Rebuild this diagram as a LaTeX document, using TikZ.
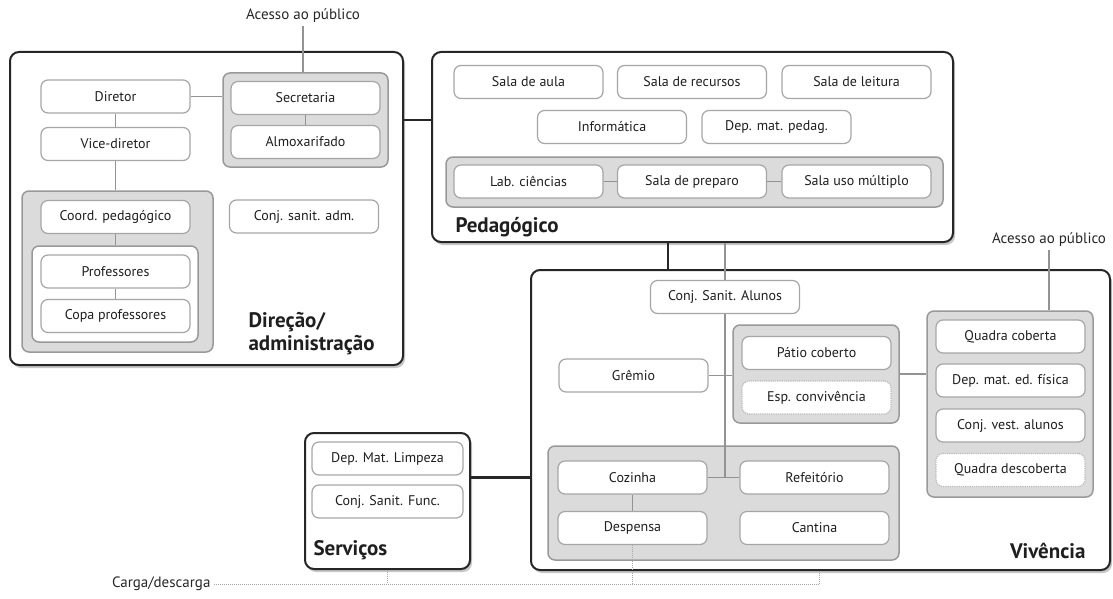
\documentclass[tikz,border=0pt]{standalone}
\usepackage{fontspec}
\setmainfont{PT Sans}
\usetikzlibrary{shadows}

\begin{document}
\begin{tikzpicture}[x=1pt, y=-1pt]
  \tikzstyle{area} = [rectangle, draw=black!85, line width=2pt, fill=white, rounded corners=9pt,
                      drop shadow={shadow xshift=2pt, shadow yshift=-3pt, opacity=.22, fill=black}]
  \tikzstyle{group} = [rectangle, draw=gray!80, line width=1.5pt, fill=gray!28, rounded corners=7pt]
  \tikzstyle{subgroup} = [group, fill=white]
  \tikzstyle{room} = [rectangle, draw=gray!70, line width=1.2pt, fill=white, rounded corners=7pt,
                      minimum width=149pt, minimum height=33pt, text=black!88,
                      font=\fontsize{14}{16}\selectfont]
  \tikzstyle{open} = [room, draw=gray!55, densely dotted]
  \tikzstyle{title} = [text=black!88, font=\bfseries\fontsize{21}{23}\selectfont, align=left]
  \tikzstyle{note} = [text=black!85, font=\fontsize{15}{17}\selectfont]
  \tikzstyle{link} = [draw=gray!85, line width=1.3pt]
  \tikzstyle{bond} = [draw=black!85, line width=2.4pt]
  \tikzstyle{cargo} = [draw=gray!70, line width=1pt, densely dotted]

\useasboundingbox (0,0) rectangle (1113,599);

% the four areas
\node[area, minimum width=393pt, minimum height=313pt] (dir) at (206.5,208.5) {};
\node[area, minimum width=521pt, minimum height=190pt] (ped) at (692.5,147) {};
\node[area, minimum width=579pt, minimum height=300pt] (viv) at (820.5,420) {};
\node[area, minimum width=165pt, minimum height=136pt] (serv) at (387.5,501) {};

% Direcao / administracao
\node[group, minimum width=165pt, minimum height=94pt] (secrg) at (305.5,120) {};
\node[group, minimum width=191pt, minimum height=161pt] (coordg) at (117.5,271.5) {};
\node[subgroup, minimum width=166pt, minimum height=96pt] (profg) at (115,294) {};
\node[room] (diretor) at (115.5,96.5) {Diretor};
\node[room, below of=diretor, node distance=47.5pt] (vice) {Vice-diretor};
\node[room] (secr) at (305.5,98) {Secretaria};
\node[room, below of=secr, node distance=44pt] (almox) {Almoxarifado};
\node[room] (coord) at (115.5,217) {Coord. pedagógico};
\node[room] (prof) at (115.5,271.5) {Professores};
\node[room, below of=prof, node distance=44.5pt] (copa) {Copa professores};
\node[room] (sanadm) at (304,216.5) {Conj. sanit. adm.};
\node[title, anchor=west] (dirlbl) at (245,333.5) {Direção/\\administração};
\node[note] (acc1) at (303,16) {Acesso ao público};

% Pedagogico
\node[group, minimum width=497pt, minimum height=50pt] (labg) at (694.5,182) {};
\node[room] (aula) at (528.5,82) {Sala de aula};
\node[room] (recursos) at (692,82) {Sala de recursos};
\node[room] (leitura) at (856.5,82) {Sala de leitura};
\node[room] (info) at (612,127) {Informática};
\node[room] (depped) at (776.5,127) {Dep. mat. pedag.};
\node[room] (lab) at (528.5,181.5) {Lab. ciências};
\node[room] (preparo) at (692,181.5) {Sala de preparo};
\node[room] (multi) at (856.5,181.5) {Sala uso múltiplo};
\node[title, anchor=west] (pedlbl) at (452,227) {Pedagógico};

% Vivencia
\node[group, minimum width=166pt, minimum height=98pt] (patiog) at (816,374) {};
\node[group, minimum width=166pt, minimum height=186pt] (quadg) at (1010,404) {};
\node[group, minimum width=351pt, minimum height=114pt] (cozg) at (723.5,503) {};
\node[room] (csa) at (725,297) {Conj. Sanit. Alunos};
\node[room] (gremio) at (633.5,375.5) {Grêmio};
\node[room] (patio) at (816.5,353) {Pátio coberto};
\node[open, below of=patio, node distance=44.5pt] (conviv) {Esp. convivência};
\node[room] (quadcob) at (1010.5,336.5) {Quadra coberta};
\node[room, below of=quadcob, node distance=44pt] (depfis) {Dep. mat. ed. física};
\node[room, below of=depfis, node distance=45pt] (vest) {Conj. vest. alunos};
\node[open, below of=vest, node distance=44.5pt] (quaddesc) {Quadra descoberta};
\node[room] (cozinha) at (632.5,477.5) {Cozinha};
\node[room] (refeit) at (814.5,477.5) {Refeitório};
\node[room, below of=cozinha, node distance=50.5pt] (desp) {Despensa};
\node[room, below of=refeit, node distance=50.5pt] (cantina) {Cantina};
\node[title, anchor=east] (vivlbl) at (1089,551) {Vivência};
\node[note] (acc2) at (1049,240) {Acesso ao público};

% Servicos
\node[room, minimum width=151pt] (limpeza) at (387.5,458.5) {Dep. Mat. Limpeza};
\node[room, minimum width=151pt] (sanfunc) at (387.5,501.5) {Conj. Sanit. Func.};
\node[title, anchor=west] (servlbl) at (310,550) {Serviços};

% carga / descarga
\node[note, anchor=east] (carga) at (214,584) {Carga/descarga};
\coordinate (cargoend) at (819,584);

% links between the areas
\draw[bond] (secrg.east -| dir.east) -- (secrg.east -| ped.west);
\draw[bond] ([xshift=-24.5pt]ped.south) -- ([xshift=-24.5pt]ped.south |- viv.north);
\draw[bond] (serv.east |- cozinha.west) -- (viv.west |- cozinha.west);

% links inside the areas
\draw[link] (acc1.south) -- (acc1.south |- secrg.north);
\draw[link] (diretor.east) -- (diretor.east -| secrg.west);
\draw[link] (diretor) -- (vice);
\draw[link] (vice.south) -- (vice.south |- coordg.north);
\draw[link] (coord.south) -- (coord.south |- profg.north);
\draw[link] (prof) -- (copa);
\draw[link] (secr) -- (almox);
\draw[link] (lab) -- (preparo);
\draw[link] (preparo) -- (multi);
\draw[link] (csa.north |- ped.south) -- (csa.north);
\draw[link] (csa.south) -- (csa.south |- cozinha.east);
\draw[link] (cozinha) -- (refeit);
\draw[link] (cozinha) -- (desp);
\draw[link] (gremio.east) -- (gremio.east -| patiog.west);
\draw[link] (patiog.east) -- (patiog.east -| quadg.west);
\draw[link] (acc2.south) -- (acc2.south |- quadg.north);

% loading route
\draw[cargo] (carga.east) -- (cargoend);
\draw[cargo] (desp.south) -- (desp.south |- cargoend);
\draw[cargo] (viv.south -| cargoend) -- (cargoend);
\draw[cargo] (serv.south) -- (serv.south |- cargoend);
\end{tikzpicture}
\end{document}
